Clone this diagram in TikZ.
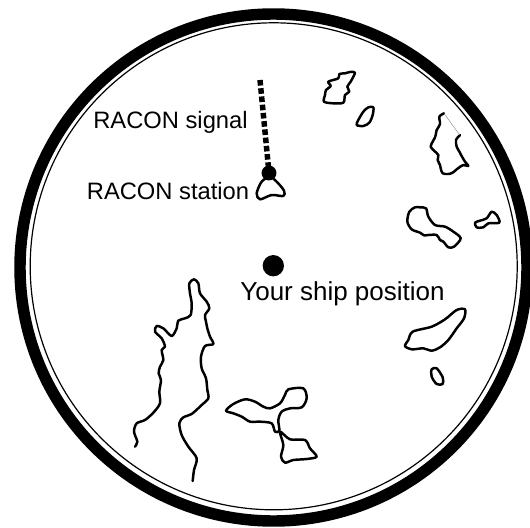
\documentclass[tikz,border=0pt]{standalone}
\usepackage{fontspec}
\setmainfont{Liberation Sans}
\tikzset{
  coast/.style={draw=black,line width=1.85pt,line join=round,line cap=round,fill=none},
  dotnode/.style={circle,fill=black,inner sep=0pt,minimum size=#1},
  lbl/.style={anchor=base,inner sep=0pt,text=black},
  zoomed/.style={x=0.25pt,y=-0.25pt}
}
\newcommand{\isl}[1]{\draw[coast] plot[smooth cycle,tension=0.5] coordinates {#1};}
\newcommand{\opn}[1]{\draw[coast] plot[smooth,tension=0.5] coordinates {#1};}
\begin{document}
\begin{tikzpicture}[x=0.75pt,y=-0.75pt]
\useasboundingbox (0,0) rectangle (530,527);
\begin{scope}
\clip (0,0) rectangle (530,527);
\draw[black,line width=8.6pt] (273.5,267.5) circle (253.5);
\draw[black,line width=0.9pt] (273.7,266.3) circle (243.5);
\end{scope}
% zoom 1
\begin{scope}[shift={(300,50)},zoomed]
\isl{(165,68)(150,66)(135,70)(118,72)(115,85)(85,95)(92,108)(78,120)(75,135)(72,155)(100,160)(130,158)(135,135)(148,125)(142,110)(152,95)}
\isl{(220,172)(205,172)(190,185)(175,210)(170,225)(190,228)(208,218)(218,195)}
\opn{(480,255)(468,270)(470,290)(478,305)(486,320)(495,335)(505,348)(490,345)(478,352)(470,358)(458,368)(445,372)(428,370)(422,355)(420,345)(413,330)(415,315)(402,302)(392,290)(398,275)(405,262)(408,250)(410,240)(420,222)(418,200)(432,190)}
\draw[black!50,line width=0.3pt] (432,190)--(445,208)--(462,232)--(480,255);
\isl{(345,472)(328,485)(322,515)(335,538)(360,548)(372,556)(385,555)(410,555)(420,570)(430,575)(445,592)(462,590)(482,565)(460,545)(435,530)(405,525)(385,500)(378,475)(360,472)}
\isl{(575,485)(560,505)(540,512)(525,518)(530,532)(550,532)(565,520)(598,518)(590,495)}
\end{scope}
% zoom 2
\begin{scope}[shift={(120,260)},zoomed]
\opn{(45,560)(52,545)(42,515)(50,490)(75,480)(100,458)(120,430)(118,395)(123,360)(116,340)(120,320)(130,300)(125,270)(135,260)(125,235)(105,215)(110,198)(130,205)(155,228)(170,205)(175,182)(195,175)(212,165)(215,130)(210,100)(208,70)(222,58)(235,70)(240,100)(260,125)(268,145)(255,165)(258,185)(262,205)(270,230)(280,252)(255,258)(243,290)(245,325)(258,355)(262,390)(265,415)(245,435)(215,462)(190,472)(178,490)(185,525)(205,560)(230,595)(222,630)(218,663)}
\isl{(318,452)(340,432)(375,418)(405,425)(430,440)(450,445)(480,430)(495,405)(505,388)(550,385)(560,415)(545,442)(510,445)(485,455)(475,480)(478,512)(465,515)(455,490)(420,485)(390,485)(365,470)(340,460)}
\isl{(480,515)(510,538)(555,540)(570,565)(590,590)(560,597)(520,600)(495,608)(483,590)(490,555)}
\end{scope}
% zoom 4
\begin{scope}[shift={(390,260)},zoomed]
\isl{(45,258)(65,268)(100,265)(125,272)(150,262)(175,240)(200,205)(222,175)(225,148)(200,150)(165,178)(125,200)(68,215)(55,240)}
\isl{(125,328)(140,325)(158,352)(158,372)(140,372)(125,350)}
\end{scope}
% station
\begin{scope}[shift={(80,70)},zoomed]
\isl{(545,335)(530,370)(540,388)(575,375)(610,378)(612,362)(590,335)(570,320)}
\end{scope}
\node[dotnode=11.2pt] (station) at (269,173) {};
\node[dotnode=16pt] (ship) at (273.3,265.7) {};
\coordinate (signalend) at (260,80);
\draw[black,line width=4.1pt,dash pattern=on 4.2pt off 2pt] (signalend) -- (station.center);
\node[lbl,font=\fontsize{17.8pt}{20pt}\selectfont] (signal) at (170.5,128.3) {RACON signal};
\node[lbl,font=\fontsize{17.8pt}{20pt}\selectfont] (stationlabel) at (168,199) {RACON station};
\node[lbl,font=\fontsize{19.5pt}{22pt}\selectfont] (shiplabel) at (342.5,300.7) {Your ship position};
\end{tikzpicture}
\end{document}
